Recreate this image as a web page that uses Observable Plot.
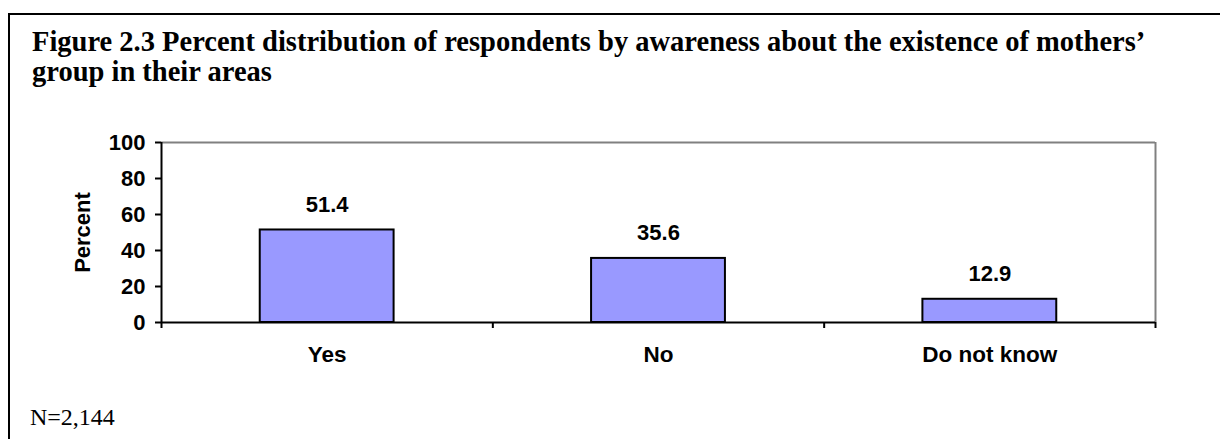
<!DOCTYPE html>
<html>
<head>
<meta charset="utf-8">
<script src="https://cdn.jsdelivr.net/npm/d3@7"></script>
<script src="https://cdn.jsdelivr.net/npm/@observablehq/plot@0.6"></script>
<style>
  html, body { margin: 0; padding: 0; background: #fff; }
  body { width: 1220px; height: 439px; position: relative; overflow: hidden; }
  #frame { position: absolute; left: 8px; top: 13px; right: 0; bottom: 0;
           border-top: 2px solid #000; border-left: 2px solid #000; }
  #title { position: absolute; left: 32px; top: 27px; width: 1185px; white-space: nowrap;
           font: bold 28.5px "Liberation Serif", "Times New Roman", serif; line-height: 30px; color: #000; }
  #chart { position: absolute; left: 0; top: 100px; }
  #caption { position: absolute; left: 30px; top: 405px;
             font: 24px "Liberation Serif", "Times New Roman", serif; line-height: 24px; color: #000; }
</style>
</head>
<body>
<div id="frame"></div>
<div id="title">Figure 2.3 Percent distribution of respondents by awareness about the existence of mothers’<br>group in their areas</div>
<div id="chart"></div>
<div id="caption">N=2,144</div>
<script>
const categories = ["Yes", "No", "Do not know"];
const values = [51.4, 35.6, 12.9];
const yTicks = [0, 20, 40, 60, 80, 100];
const yLabel = "Percent";

const data = categories.map((c, i) => ({i, c, v: values[i]}));

const chart = Plot.plot({
  width: 1220,
  height: 300,
  marginTop: 42,
  marginBottom: 78,
  marginLeft: 161,
  marginRight: 65,
  style: {fontFamily: "'Liberation Sans', Arial, sans-serif", fontSize: "22px", fontWeight: "bold", color: "#000", background: "transparent"},
  x: {domain: [0, categories.length]},
  y: {domain: [0, 100]},
  marks: [
    Plot.ruleY([100], {stroke: "#808080", strokeWidth: 2}),
    Plot.ruleX([categories.length], {stroke: "#808080", strokeWidth: 2}),
    Plot.rectY(data, {x1: d => d.i + 0.298, x2: d => d.i + 0.702, y1: 0, y2: "v", fill: "#9999FF", stroke: "#000", strokeWidth: 2}),
    Plot.text(data, {x: d => d.i + 0.5, y: "v", text: d => d.v.toFixed(1), dy: -25, lineAnchor: "middle", fontSize: 22, fontWeight: "bold", fill: "#000"}),
    Plot.ruleY([0], {stroke: "#000", strokeWidth: 2}),
    Plot.ruleX([0], {stroke: "#000", strokeWidth: 2}),
    Plot.axisY({ticks: yTicks, tickSize: 6, tickPadding: 10, strokeWidth: 2, label: yLabel, labelAnchor: "center", labelArrow: "none", labelOffset: 87, fontSize: 22, fontWeight: "bold"}),
    Plot.axisX({ticks: [0, 1, 2, 3], tickSize: 6, tickFormat: () => "", strokeWidth: 2, label: null}),
    Plot.axisX({ticks: categories.map((c, i) => i + 0.5), tickSize: 0, tickPadding: 24, tickFormat: d => categories[Math.floor(d)], label: null, fontSize: 22.5, fontWeight: "bold"})
  ]
});
document.getElementById("chart").appendChild(chart);
</script>
</body>
</html>
